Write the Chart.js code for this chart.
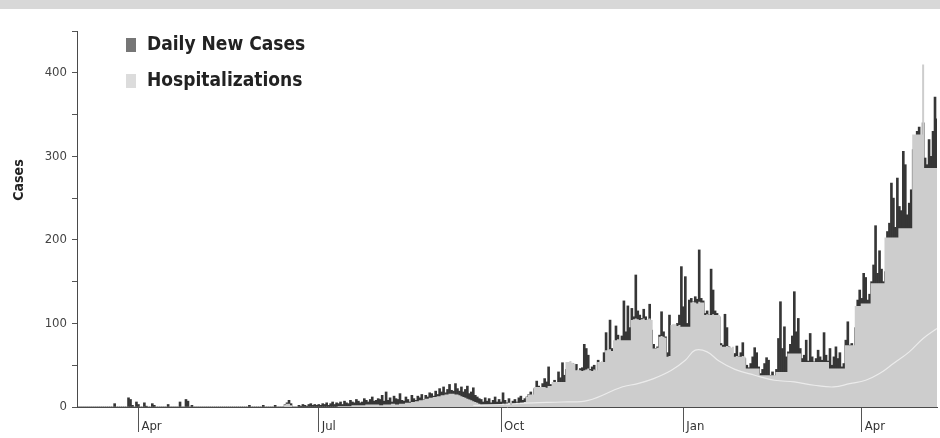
<!DOCTYPE html>
<html>
<head>
<meta charset="utf-8">
<title>Daily New Cases and Hospitalizations</title>
<script src="https://cdn.jsdelivr.net/npm/chart.js@4.4.1/dist/chart.umd.min.js"></script>
<style>
    html, body { margin: 0; padding: 0; }
    body {
        width: 940px;
        height: 438px;
        overflow: hidden;
        background: linear-gradient(#d8d8d8 0, #d8d8d8 9px, #ffffff 9px);
    }
    #wrap { position: relative; width: 940px; height: 438px; }
</style>
</head>
<body>
<div id="wrap"><canvas id="casesChart"></canvas></div>
<script>
// Day 0 = 2020-03-01, one value per day
const startDate = '2020-03-01';
const tickDays = [31, 122, 214, 306, 396];
const tickLabels = ['Apr', 'Jul', 'Oct', 'Jan', 'Apr'];
const seriesLabels = ['Daily New Cases', 'Hospitalizations'];

const dailyCases = [
    // Mar 2020
    0,0,0,0,0,0,0,0,0,0, 0,0,0,0,0,0,0,0,0,4, 0,0,0,0,0,0,11,9,2,0, 6,
    // Apr
    3,0,0,5,1,0,0,4,2,0, 0,0,0,0,0,3,0,0,0,0, 0,6,0,0,9,7,0,2,0,0,
    // May
    0,0,0,0,0,0,0,0,0,0, 0,0,0,0,0,0,0,0,0,0, 0,0,0,0,0,0,2,0,0,0, 0,
    // Jun
    0,0,2,0,0,0,0,0,2,0, 0,0,0,3,5,8,4,0,0,0, 2,1,3,2,1,3,4,2,3,2,
    // Jul
    3,2,4,3,5,2,4,6,3,5, 4,6,3,7,5,4,8,6,5,9, 7,5,6,10,8,6,9,12,7,8, 10,
    // Aug
    9,14,7,18,8,11,6,13,10,9, 16,8,7,12,9,6,14,10,8,13, 11,15,9,14,12,17,16,13,19,15, 22,
    // Sep
    18,24,17,21,27,20,19,28,22,19, 24,18,21,25,16,18,23,14,12,10, 9,6,11,7,10,5,8,12,6,9,
    // Oct
    6,17,8,5,10,4,7,9,6,11, 13,8,10,12,15,18,14,22,31,25, 20,28,34,30,48,27,26,32,29,42, 35,
    // Nov
    53,38,45,50,48,52,44,51,40,46, 47,75,70,62,45,48,50,42,56,49, 52,65,89,60,104,70,66,97,86,75,
    // Dec
    85,127,90,121,95,118,108,158,115,110, 106,117,108,104,123,92,75,70,72,86, 114,90,84,65,110,92,98,96,100,110, 168,
    // Jan 2021
    120,156,100,128,130,126,132,129,188,130, 127,112,115,110,165,140,115,112,108,76, 74,111,95,72,70,62,64,73,60,65, 77,
    // Feb
    58,50,47,52,60,71,65,48,40,45, 52,59,56,38,42,37,45,82,126,70, 96,60,66,75,85,138,90,106,
    // Mar
    70,58,62,80,55,88,60,54,58,68, 60,56,89,62,55,70,50,60,72,58, 65,48,52,80,102,74,76,70,95,128, 140,
    // Apr
    130,160,155,128,135,150,170,217,160,187, 165,150,162,210,220,268,250,215,274,240, 235,306,290,230,244,260,308,300,330,335,
    // May
    310,340,298,290,320,300,330,371,345
];

const hospitalizations = [
    // Mar 2020
    0,0,0,0,0,0,0,0,0,0, 0,0,0,0,0,0,0,0,0,0, 0,0,0,0,0,0,0,0,0,0, 0,
    // Apr
    0,0,0,0,0,0,0,0,0,0, 0,0,0,0,0,0,0,0,0,0, 0,0,0,0,0,0,0,0,0,0,
    // May
    0,0,0,0,0,0,0,0,0,0, 0,0,0,0,0,0,0,0,0,0, 0,0,0,0,0,0,0,0,0,0, 0,
    // Jun
    0,0,0,0,0,0,0,0,0,0, 0,0,0,3,4,4,2,0,0,0, 0,0,0,0,0,0,0,0,0,0,
    // Jul
    0,0,0,0,0,0,0,0,0,0, 1,1,1,1,1,1,1,2,2,2, 2,2,2,2,3,3,3,3,3,3, 3,
    // Aug
    2,2,3,3,3,3,4,4,3,3, 4,4,4,5,5,5,6,6,7,7, 8,8,9,10,10,11,11,12,12,13, 13,
    // Sep
    14,14,15,15,16,16,16,15,15,14, 13,12,11,10,9,8,7,6,5,4, 3,3,3,3,3,3,3,3,3,3,
    // Oct
    3,4,3,4,5,3,4,4,5,4, 5,5,6,12,15,15,15,24,24,24, 24,24,24,23,25,25,30,30,30,30, 30,
    // Nov
    30,30,54,54,55,53,52,44,45,44, 43,44,45,46,44,43,45,44,54,54, 55,54,68,68,69,67,80,80,81,80,
    // Dec
    80,80,80,80,80,104,105,106,105,104, 105,106,104,105,106,104,70,70,71,84, 85,84,83,60,61,98,98,99,97,98, 96,
    // Jan 2021
    96,96,96,96,125,126,125,124,126,125, 125,110,111,110,110,111,110,110,110,74, 72,72,73,72,71,72,60,61,60,60, 61,
    // Feb
    60,46,46,46,46,46,46,46,38,38, 38,38,38,38,38,38,42,42,42,42, 42,42,64,64,64,64,64,64,
    // Mar
    64,54,54,54,54,54,54,54,54,54, 54,54,54,54,54,46,46,46,46,46, 46,46,46,74,74,74,74,74,121,121, 121,
    // Apr
    124,124,124,124,124,148,148,148,148,148, 148,148,203,203,203,203,203,203,203,214, 214,214,214,214,214,214,326,326,326,326,
    // May
    326,410,286,286,286,286,286,286,286
];

// the pale line running through the grey area
const trendDays = [200, 214, 230, 245, 258, 275, 283, 291, 300, 307, 312, 318, 324, 332, 342, 352, 362, 372, 382, 390, 398, 405, 412, 420, 427, 434];
const trendValues = [2, 3, 5, 6, 8, 24, 28, 34, 44, 56, 68, 66, 55, 45, 38, 32, 30, 26, 24, 28, 32, 40, 52, 66, 82, 94];

const legendColors = ['#767676', '#dcdcdc'];
const FONT = "'DejaVu Sans Condensed', 'DejaVu Sans', sans-serif";

// Legend drawn inside the plot, top left
const insideLegend = {
    id: 'insideLegend',
    afterDraw(chart) {
        const c = chart.ctx;
        const left = chart.chartArea.left;
        const top = chart.chartArea.top;
        c.save();
        c.font = 'bold 19px ' + FONT;
        c.textBaseline = 'middle';
        c.textAlign = 'left';
        seriesLabels.forEach((label, i) => {
            const y = top + 14 + i * 36;
            c.fillStyle = legendColors[i];
            c.fillRect(left + 49, y - 7, 10, 14);
            c.fillStyle = '#222';
            c.fillText(label, left + 70, y);
        });
        c.restore();
    }
};

// Axis title placed a bit above the middle like the original
const yTitle = {
    id: 'yTitle',
    afterDraw(chart) {
        const c = chart.ctx;
        c.save();
        c.translate(19, 180);
        c.rotate(-Math.PI / 2);
        c.font = 'bold 14px ' + FONT;
        c.fillStyle = '#222';
        c.textAlign = 'center';
        c.textBaseline = 'middle';
        c.fillText('Cases', 0, 0);
        c.restore();
    }
};

const casePoints = dailyCases.map((v, i) => ({ x: i, y: v }));
const hospPoints = hospitalizations.map((v, i) => ({ x: i, y: v }));
const trendPoints = trendDays.map((d, i) => ({ x: d, y: trendValues[i] }));

const ctx = document.getElementById('casesChart').getContext('2d');
new Chart(ctx, {
    type: 'bar',
    data: {
        datasets: [
            {
                type: 'bar',
                label: seriesLabels[0],
                data: casePoints,
                backgroundColor: '#363636',
                barPercentage: 1,
                categoryPercentage: 1,
                order: 3
            },
            {
                type: 'line',
                label: seriesLabels[1],
                data: hospPoints,
                backgroundColor: '#cdcdcd',
                borderWidth: 0,
                fill: 'origin',
                stepped: 'middle',
                pointRadius: 0,
                order: 2
            },
            {
                type: 'line',
                label: '',
                data: trendPoints,
                borderColor: 'rgba(238, 238, 238, 0.9)',
                borderWidth: 1.2,
                tension: 0.4,
                pointRadius: 0,
                fill: false,
                order: 1
            }
        ]
    },
    options: {
        responsive: true,
        maintainAspectRatio: false,
        animation: false,
        layout: { padding: { top: 31, right: 3, left: 0, bottom: 0 } },
        plugins: {
            legend: { display: false },
            tooltip: { enabled: false }
        },
        scales: {
            x: {
                type: 'linear',
                min: 0,
                max: 434,
                offset: false,
                afterBuildTicks: s => { s.ticks = tickDays.map(v => ({ value: v })); },
                afterFit: s => { s.height = 31; },
                grid: {
                    drawOnChartArea: false,
                    tickLength: 25,
                    color: '#555',
                    offset: false
                },
                border: { color: '#4a4a4a', width: 1 },
                ticks: {
                    align: 'start',
                    labelOffset: 3,
                    padding: -13,
                    maxRotation: 0,
                    autoSkip: false,
                    color: '#333',
                    font: { family: FONT, size: 13 },
                    callback: v => {
                        const k = tickDays.indexOf(v);
                        return k >= 0 ? tickLabels[k] : '';
                    }
                }
            },
            y: {
                min: 0,
                max: 450,
                afterBuildTicks: s => {
                    const t = [];
                    for (let v = 0; v <= 450; v += 50) t.push({ value: v });
                    s.ticks = t;
                },
                afterFit: s => { s.width = 77; },
                grid: {
                    drawOnChartArea: false,
                    tickLength: 5,
                    color: '#555'
                },
                border: { color: '#4a4a4a', width: 1 },
                ticks: {
                    padding: 5,
                    color: '#444',
                    font: { family: FONT, size: 13 },
                    callback: v => (v % 100 === 0 ? v : '')
                }
            }
        }
    },
    plugins: [insideLegend, yTitle]
});
</script>
</body>
</html>
